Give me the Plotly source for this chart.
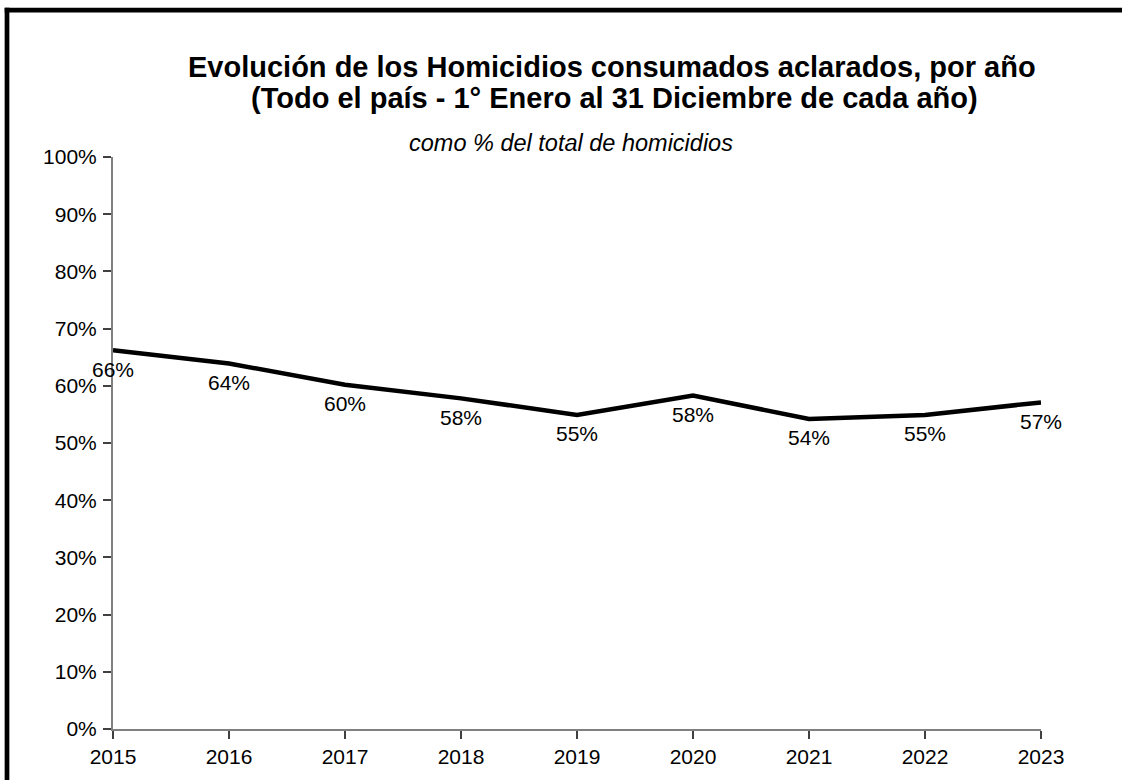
import plotly.graph_objects as go

years = [2015, 2016, 2017, 2018, 2019, 2020, 2021, 2022, 2023]
values = [0.662, 0.639, 0.602, 0.578, 0.549, 0.583, 0.542, 0.549, 0.571]
labels = ["66%", "64%", "60%", "58%", "55%", "58%", "54%", "55%", "57%"]

title_l1 = "Evolución de los Homicidios consumados aclarados, por año"
title_l2 = "(Todo el país - 1° Enero al 31 Diciembre de cada año)"
subtitle = "como % del total de homicidios"

FONT = "Liberation Sans, Arial, sans-serif"

# plot area in pixels
L, R, T, B = 113, 1041, 157, 733
W, H = 1122, 780

fig = go.Figure()
fig.add_trace(go.Scatter(x=years, y=values, mode="lines",
                         line=dict(color="black", width=4.5),
                         hoverinfo="skip", showlegend=False))

for x, y, t in zip(years, values, labels):
    fig.add_annotation(x=x, y=y, text=t, showarrow=False, yshift=-19,
                       font=dict(family=FONT, size=21, color="black"))

def px_x(p):
    return (p - L) / (R - L)

def px_y(p):
    return (B - p) / (B - T)

fig.add_annotation(xref="paper", yref="paper", x=px_x(612), y=1.0, yshift=T - 67,
                   text="<b>" + title_l1 + "</b>", showarrow=False,
                   xanchor="center", yanchor="middle",
                   font=dict(family=FONT, size=29, color="black"))
fig.add_annotation(xref="paper", yref="paper", x=px_x(614), y=1.0, yshift=T - 98,
                   text="<b>" + title_l2 + "</b>", showarrow=False,
                   xanchor="center", yanchor="middle",
                   font=dict(family=FONT, size=29, color="black"))
fig.add_annotation(xref="paper", yref="paper", x=px_x(571), y=1.0, yshift=T - 143,
                   text="<i>" + subtitle + "</i>", showarrow=False,
                   xanchor="center", yanchor="middle",
                   font=dict(family=FONT, size=23.5, color="black"))

# outer frame: only top and left edges are inside the picture
frame = dict(color="black", width=4.7)
fig.add_shape(type="line", xref="paper", yref="paper",
              x0=px_x(4.7), x1=px_x(1130), y0=px_y(9), y1=px_y(9),
              line=frame, layer="above")
fig.add_shape(type="line", xref="paper", yref="paper",
              x0=px_x(7), x1=px_x(7), y0=px_y(6.7), y1=px_y(800),
              line=frame, layer="above")

fig.update_xaxes(range=[2015, 2023], tickmode="array", tickvals=years,
                 ticktext=[str(y) for y in years],
                 showgrid=False, zeroline=False, showline=True,
                 linecolor="#808080", linewidth=2, ticks="outside",
                 ticklen=8, tickwidth=1.5, tickcolor="#404040",
                 tickfont=dict(family=FONT, size=21, color="black"))
fig.update_yaxes(range=[0, 1], dtick=0.1, tick0=0, tickformat=".0%",
                 showgrid=False, zeroline=False, showline=True,
                 linecolor="#808080", linewidth=2, ticks="outside",
                 ticklen=8, tickwidth=1.5, tickcolor="#404040",
                 ticklabelstandoff=2,
                 tickfont=dict(family=FONT, size=21, color="black"))

fig.update_layout(width=W, height=H, autosize=False,
                  margin=dict(l=L, r=W - R, t=T, b=H - B),
                  paper_bgcolor="white", plot_bgcolor="white")

fig.write_html("out.html", config={"displayModeBar": False},
               post_script="document.body.style.margin='0px';")
